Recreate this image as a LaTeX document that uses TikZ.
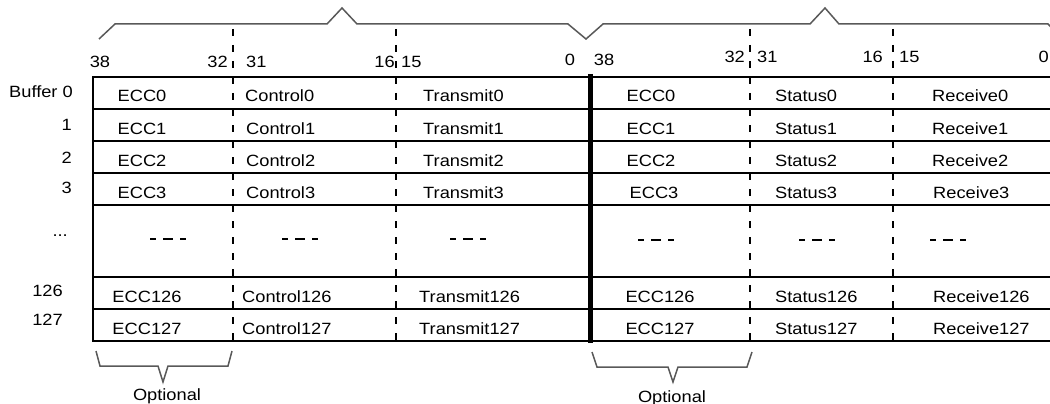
\documentclass[tikz,border=0pt]{standalone}
\usepackage{fontspec}
\setmainfont{Liberation Sans}[FakeStretch=1.12]

\begin{document}
\begin{tikzpicture}[x=1pt, y=-1pt,
  cel/.style={font=\fontsize{16.3}{19}\selectfont, inner sep=0pt, anchor=base},
  celw/.style={cel, anchor=base west},
  rgt/.style={cel, anchor=base east},
  rul/.style={line width=2pt},
  thk/.style={line width=5pt},
  dsh/.style={line width=2pt, dash pattern=on 7pt off 9pt},
  brk/.style={line width=1.5pt, draw=black!65},
  elp/.style={line width=1.6pt, dash pattern=on 6pt off 7pt on 10pt off 7pt on 6pt off 100pt},
]
\clip (0,0) rectangle (1050,404);

%% ---- Top bracket over both halves ----
\draw[brk] (99,39) -- (115,24) -- (327,24) -- (342,8) -- (357,24) -- (568,24)
  -- (586,39) -- (603,24) -- (810,24) -- (825,8) -- (839,24) -- (1048,24) -- (1063,39);

%% ---- Bit numbers ----
\node[cel]  (b38) at (100,67.7) {38};
\node[rgt]  (b32) at (228,67.7) {32};
\node[celw] (b31) at (246,67.7) {31};
\node[rgt]  (b16) at (395,67.7) {16};
\node[celw] (b15) at (401,67.7) {15};
\node[cel]  (b0)  at (570,65.7) {0};
\node[cel]  (c38) at (604,65.7) {38};
\node[rgt]  (c32) at (745,62.7) {32};
\node[celw] (c31) at (757,62.7) {31};
\node[rgt]  (c16) at (883,62.7) {16};
\node[celw] (c15) at (899,62.7) {15};
\node[rgt]  (c0)  at (1049,62.7) {0};

%% ---- Table rules ----
\draw[rul] (1055,77) -- (93,77) -- (93,341) -- (1055,341);
\draw[rul] (93,109) -- (1055,109) (93,141) -- (1055,141) (93,173) -- (1055,173)
  (93,205) -- (1055,205) (93,277) -- (1055,277) (93,309) -- (1055,309);
\draw[thk] (590,74) -- (590,343);
\draw[dsh] (233,29) -- (233,341);
\draw[dsh] (396,29) -- (396,341);
\draw[dsh] (750,29) -- (750,341);
\draw[dsh] (893,29) -- (893,341);

%% ---- Buffer numbers ----
\node[rgt] (n0)   at (73,97.7)  {Buffer 0};
\node[rgt] (n1)   at (72,130.7) {1};
\node[rgt] (n2)   at (72,163.7) {2};
\node[rgt] (n3)   at (72,193.5) {3};
\node[rgt] (nd)   at (68,236)   {...};
\node[rgt] (n126) at (63,296.5) {126};
\node[rgt] (n127) at (63,325.5) {127};

%% ---- Rows: ECC | Control | Transmit || ECC | Status | Receive ----
\node[cel] (E0) at (142,102) {ECC0};  \node[celw] (C0) at (245,102) {Control0};
\node[celw] (T0) at (423,102) {Transmit0};
\node[cel] (F0) at (651,102) {ECC0};  \node[celw] (S0) at (775,102) {Status0};
\node[celw] (R0) at (932,102) {Receive0};

\node[cel] (E1) at (142,134.5) {ECC1};  \node[celw] (C1) at (246,134.5) {Control1};
\node[celw] (T1) at (423,134.5) {Transmit1};
\node[cel] (F1) at (651,134.5) {ECC1};  \node[celw] (S1) at (775,134.5) {Status1};
\node[celw] (R1) at (932,134.5) {Receive1};

\node[cel] (E2) at (142,166) {ECC2};  \node[celw] (C2) at (246,166) {Control2};
\node[celw] (T2) at (423,166) {Transmit2};
\node[cel] (F2) at (651,166) {ECC2};  \node[celw] (S2) at (775,166) {Status2};
\node[celw] (R2) at (932,166) {Receive2};

\node[cel] (E3) at (142,198) {ECC3};  \node[celw] (C3) at (246,198) {Control3};
\node[celw] (T3) at (423,198) {Transmit3};
\node[cel] (F3) at (654,198) {ECC3};  \node[celw] (S3) at (775,198) {Status3};
\node[celw] (R3) at (933,198) {Receive3};

%% gap row
\draw[elp] (150,239) -- (186,239);
\draw[elp] (282,239) -- (318,239);
\draw[elp] (450,239) -- (486,239);
\draw[elp] (638,240) -- (674,240);
\draw[elp] (799,240) -- (835,240);
\draw[elp] (930,240) -- (966,240);

\node[cel] (E126) at (147,302) {ECC126};  \node[celw] (C126) at (242,302) {Control126};
\node[celw] (T126) at (419,302) {Transmit126};
\node[cel] (F126) at (660,302) {ECC126};  \node[celw] (S126) at (775,302) {Status126};
\node[celw] (R126) at (933,302) {Receive126};

\node[cel] (E127) at (147,334) {ECC127};  \node[celw] (C127) at (242,334) {Control127};
\node[celw] (T127) at (419,334) {Transmit127};
\node[cel] (F127) at (660,334) {ECC127};  \node[celw] (S127) at (775,334) {Status127};
\node[celw] (R127) at (933,334) {Receive127};

%% ---- Optional brackets below ECC columns ----
\draw[brk] (96,351) -- (100,366) -- (158,366) -- (163,382) -- (168,366) -- (228,366) -- (232,351);
\draw[brk] (592,352) -- (597,367) -- (668,367) -- (673,382) -- (678,367) -- (747,367) -- (752,352);
\node[cel] (o1) at (167,400.7) {Optional};
\node[cel] (o2) at (672,402)   {Optional};
\end{tikzpicture}
\end{document}
